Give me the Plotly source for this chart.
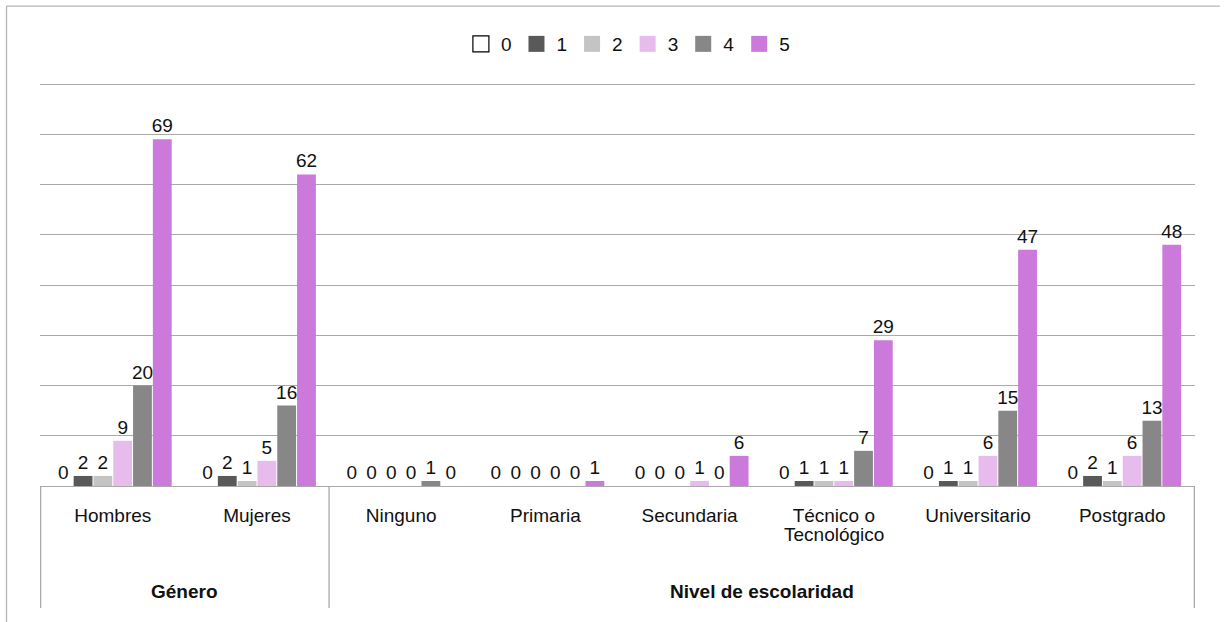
import plotly.graph_objects as go

# Categories grouped under two headings
groups = ["Género", "Nivel de escolaridad"]
group_sizes = [2, 6]
categories = ["Hombres", "Mujeres", "Ninguno", "Primaria", "Secundaria",
              "Técnico o Tecnológico", "Universitario", "Postgrado"]
tick_labels = ["Hombres", "Mujeres", "Ninguno", "Primaria", "Secundaria",
               "Técnico o<br>Tecnológico", "Universitario", "Postgrado"]

# Counts per rating (0-5)
series_names = ["0", "1", "2", "3", "4", "5"]
s0 = [0, 0, 0, 0, 0, 0, 0, 0]
s1 = [2, 2, 0, 0, 0, 1, 1, 2]
s2 = [2, 1, 0, 0, 0, 1, 1, 1]
s3 = [9, 5, 0, 0, 1, 1, 6, 6]
s4 = [20, 16, 1, 0, 0, 7, 15, 13]
s5 = [69, 62, 0, 1, 6, 29, 47, 48]
series_values = [s0, s1, s2, s3, s4, s5]

colors = ["#ffffff", "#595959", "#c4c4c4", "#e7bcec", "#878787", "#cb79db"]
FONT = "Liberation Sans, Arial, Helvetica, sans-serif"
GRID = "#aaaaaa"
FS = 19

fig = go.Figure()
for name, vals, col in zip(series_names, series_values, colors):
    fig.add_trace(go.Bar(
        name=name, x=categories, y=vals, showlegend=False,
        marker=dict(color=col, line=dict(width=0)),
        text=[str(v) for v in vals], textposition="outside",
        textfont=dict(family=FONT, size=FS, color="#111111"),
        cliponaxis=False, constraintext="none",
    ))

# Legend entries: square swatches, the "0" swatch outlined
for name, col in zip(series_names, colors):
    fig.add_trace(go.Scatter(
        name=name, x=[None], y=[None], mode="markers",
        marker=dict(symbol="square", size=16, color=col,
                    line=dict(color="#000000" if name == "0" else col,
                              width=1.2 if name == "0" else 0)),
        showlegend=True, hoverinfo="skip",
    ))

# Frame lines below the axis: outer edges and dividers between groups
shapes = []
edges = [-0.5]
for n in group_sizes:
    edges.append(edges[-1] + n)
for e in edges:
    shapes.append(dict(type="line", xref="x", yref="paper",
                       x0=e, x1=e, y0=0, y1=-0.302,
                       line=dict(color=GRID, width=1.3)))
# Outer border (left and top)
shapes.append(dict(type="line", xref="paper", yref="paper",
                   x0=-0.029, x1=-0.029, y0=1.188, y1=-0.4,
                   line=dict(color="#b5b5b5", width=1.3)))
shapes.append(dict(type="line", xref="paper", yref="paper",
                   x0=-0.029, x1=1.0215, y0=1.188, y1=1.188,
                   line=dict(color="#b5b5b5", width=1.3)))

label_font = dict(family=FONT, size=FS, color="#111111")
annotations = []
for i, g in enumerate(groups):
    center = (edges[i] + edges[i + 1]) / 2
    annotations.append(dict(x=center, y=-0.26, xref="x", yref="paper",
                            text="<b>" + g + "</b>", showarrow=False,
                            font=label_font,
                            xanchor="center", yanchor="middle"))

# First line of each category label goes on the axis; further lines are
# stacked below it with tighter spacing
first_lines = []
for cat, lab in zip(categories, tick_labels):
    lines = lab.split("<br>")
    first_lines.append(lines[0])
    for k, extra in enumerate(lines[1:], start=1):
        annotations.append(dict(x=cat, y=-0.121 - (k - 1) * 0.045,
                                xref="x", yref="paper", text=extra,
                                showarrow=False, font=label_font,
                                xanchor="center", yanchor="middle"))

fig.update_layout(
    width=1227, height=622,
    margin=dict(l=40, r=32, t=82, b=136),
    paper_bgcolor="white", plot_bgcolor="white",
    barmode="group", bargap=0.176, bargroupgap=0.05,
    font=dict(family=FONT, size=FS, color="#111111"),
    legend=dict(orientation="h", x=0.509, xanchor="center",
                y=1.094, yanchor="middle",
                font=label_font,
                itemwidth=30, itemsizing="trace", traceorder="normal"),
    xaxis=dict(type="category", tickvals=categories, ticktext=first_lines,
               showgrid=False, showline=False, ticks="",
               ticklabelstandoff=16, tickfont=label_font),
    yaxis=dict(range=[0, 80.4], dtick=10, showticklabels=False,
               showgrid=True, gridcolor=GRID, gridwidth=1.3,
               zeroline=True, zerolinecolor=GRID, zerolinewidth=1.3,
               showline=False, ticks=""),
    shapes=shapes, annotations=annotations,
)

fig.write_html("out.html")
